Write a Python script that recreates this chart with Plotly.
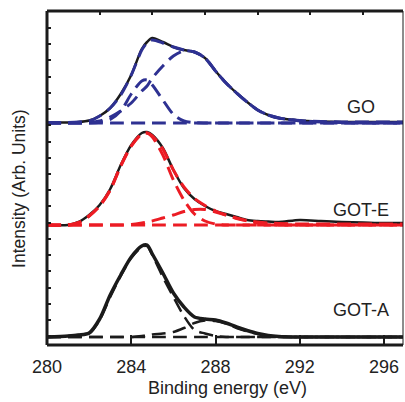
import plotly.graph_objects as go

# Binding energy grid (eV)
energy = [280, 281, 281.5, 282, 282.5, 283, 283.5, 284, 284.5, 284.75, 285, 285.5, 286, 286.5,
          287, 287.5, 288, 288.5, 289, 289.5, 290, 290.5, 291, 292, 293, 294, 295, 296, 296.9]

# Intensities (arb. units) relative to each spectrum's baseline
go_exp = [0.5, 0.5, 1, 2.5, 7, 15, 29, 48, 74, 81, 85, 81, 76, 73, 71, 65, 52, 40, 30, 21, 13, 8, 5, 2.5, 1.5, 1, 1, 1, 1]
go_fit = [0, 0.5, 1, 2, 7, 15, 28, 48, 73, 80, 83, 80, 76, 73, 71, 65, 52, 40, 30, 21, 13, 8, 5, 2.5, 1.5, 1, 1, 1, 1]
go_c1 = [0, 0, 0, 0, 0.7, 3.5, 12, 29, 42, 43, 38, 23, 8.6, 2, 0.3, 0, 0, 0, 0, 0, 0, 0, 0, 0, 0, 0, 0, 0, 0]
go_c2 = [0, 0, 0, 0.5, 2, 6, 12, 20, 32, 37, 45, 57, 67, 72, 71, 65, 52, 40, 30, 21, 13, 8, 5, 2, 1, 0.5, 0, 0, 0]

gote_exp = [0, 0, 3, 10, 20, 36, 60, 80, 92, 93, 90, 77, 55, 37, 26, 19, 14, 11, 8, 5, 4, 3.5, 3, 5, 4, 3, 2.5, 2, 2]
gote_fit = [0, 0, 2.5, 9, 19, 35, 59, 79, 91, 92, 89, 76, 55, 38, 26.5, 19.5, 14, 10, 7, 4.5, 3, 2, 1.5, 1, 1, 1, 1, 1, 1]
gote_c1 = [0, 0, 2, 9, 19, 35, 59, 79, 91, 92, 88, 70, 45, 25, 11, 4, 1, 0, 0, 0, 0, 0, 0, 0, 0, 0, 0, 0, 0]
gote_c2 = [0, 0, 0, 0, 0, 0, 0, 0.5, 2, 3, 4, 7, 10, 13.5, 15.5, 15.5, 13, 10, 6.5, 4, 2, 1, 0, 0, 0, 0, 0, 0, 0]

gota_exp = [0, 1, 2, 4, 18, 42, 62, 80, 91, 92, 83, 64, 44, 30, 20, 18, 17, 14, 10, 6.5, 3.5, 1.5, 0.5, 0, 0, 0, 0, 0, 0]
gota_c1 = [0, 1, 2, 3.5, 17, 40, 61, 79, 90, 91, 82, 60, 40, 21, 7, 3.5, 1, 0, 0, 0, 0, 0, 0, 0, 0, 0, 0, 0, 0]
gota_c2 = [0, 0, 0, 0, 0, 0, 0, 0, 1, 1.5, 2.5, 3.5, 5, 9, 14, 16.5, 16, 13.5, 9, 5.5, 3, 1, 0.5, 0, 0, 0, 0, 0, 0]

offsets = {"GO": 222, "GOT-E": 120, "GOT-A": 8}
labels = ["GO", "GOT-E", "GOT-A"]
label_pos_x = 294.9
label_pos_y = {"GO": 238, "GOT-E": 135, "GOT-A": 35}

x_ticks = [280, 284, 288, 292, 296]

BLACK = "#1b1b1b"
BLUE = "#2e3192"
RED = "#ec1c24"
DASH = "14px,7px"

fig = go.Figure()

def add(x, y, off, color, width, dash=None):
    fig.add_trace(go.Scatter(
        x=x, y=[v + off for v in y], mode="lines",
        line=dict(color=color, width=width, dash=dash, shape="spline", smoothing=0.8),
        hoverinfo="skip", showlegend=False))

zeros = [0] * len(energy)

# GO
o = offsets["GO"]
add(energy, go_exp, o, BLACK, 2.5)
add(energy, zeros, o, BLUE, 3, DASH)
add(energy, go_c1, o, BLUE, 3, DASH)
add(energy, go_c2, o, BLUE, 3, DASH)
add(energy, go_fit, o, BLUE, 3, DASH)

# GOT-E
o = offsets["GOT-E"]
add(energy, gote_exp, o, BLACK, 2.5)
add(energy, zeros, o, RED, 3, DASH)
add(energy, gote_c1, o, RED, 3, DASH)
add(energy, gote_c2, o, RED, 3, DASH)
add(energy, gote_fit, o, RED, 3, DASH)

# GOT-A
o = offsets["GOT-A"]
add(energy, gota_exp, o, BLACK, 3.5)
add(energy, zeros, o, BLACK, 2.5, DASH)
add(energy, gota_c1, o, BLACK, 2.5, DASH)
add(energy, gota_c2, o, BLACK, 2.5, DASH)

# invisible trace to activate the top axis
fig.add_trace(go.Scatter(x=[energy[0]], y=[None], xaxis="x2", mode="lines",
                         hoverinfo="skip", showlegend=False))

font = dict(family="Liberation Sans, Arial", size=18, color="#222")

for lab in labels:
    fig.add_annotation(x=label_pos_x, y=label_pos_y[lab], text=lab, showarrow=False,
                       font=font, xanchor="center", yanchor="middle")

# axis titles
fig.add_annotation(xref="paper", yref="paper", x=0.506, y=-0.128, text="Binding energy (eV)",
                   showarrow=False, font=font, xanchor="center", yanchor="middle")
fig.add_annotation(xref="paper", yref="paper", x=-0.079, y=0.47, text="Intensity (Arb. Units)",
                   showarrow=False, font=dict(font, size=17.5), textangle=-90,
                   xanchor="center", yanchor="middle")

fig.update_layout(
    width=405, height=402,
    margin=dict(l=47, r=2, t=11, b=57),
    paper_bgcolor="white", plot_bgcolor="white",
    font=font,
    xaxis=dict(range=[280, 296.9], tickvals=x_ticks, ticks="inside", ticklen=10, tickwidth=1.5,
               tickcolor=BLACK, showgrid=False, zeroline=False, showline=False,
               automargin=False, tickfont=font, ticklabelstandoff=9),
    xaxis2=dict(range=[280, 296.9], overlaying="x", side="top", tick0=280, dtick=2.5,
                ticks="inside", ticklen=4, tickwidth=1.5, tickcolor=BLACK, automargin=False,
                showticklabels=False, showgrid=False, zeroline=False, showline=False),
    yaxis=dict(range=[0, 334], tick0=25, dtick=16.22, ticks="inside", ticklen=4, tickwidth=1.5,
               tickcolor=BLACK, showticklabels=False, showgrid=False, zeroline=False, showline=False,
               automargin=False),
)

# frame
fig.add_shape(type="line", xref="paper", yref="paper", x0=0, x1=1, y0=0, y1=0, line=dict(color=BLACK, width=3))
fig.add_shape(type="line", xref="paper", yref="paper", x0=0, x1=1, y0=1, y1=1, line=dict(color=BLACK, width=3))
fig.add_shape(type="line", xref="paper", yref="paper", x0=0, x1=0, y0=0, y1=1, line=dict(color=BLACK, width=3))
fig.add_shape(type="line", xref="paper", yref="paper", x0=1, x1=1, y0=0, y1=1, line=dict(color=BLACK, width=1))

fig.write_html("out.html", config={"displayModeBar": False},
               post_script="document.body.style.margin='0';document.body.style.overflow='hidden';")
